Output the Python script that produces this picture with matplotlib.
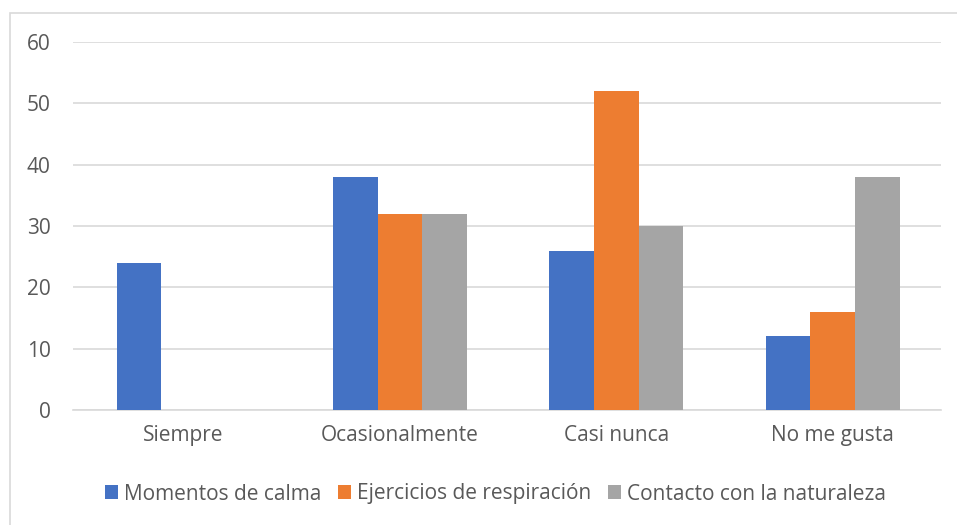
import matplotlib.pyplot as plt
import numpy as np
from matplotlib.patches import Rectangle

categories = ['Siempre', 'Ocasionalmente', 'Casi nunca', 'No me gusta']
series_names = ['Momentos de calma', 'Ejercicios de respiración', 'Contacto con la naturaleza']
calma = [24, 38, 26, 12]
respiracion = [0, 32, 52, 16]
naturaleza = [0, 32, 30, 38]
colors = ['#4472C4', '#ED7D31', '#A5A5A5']

plt.rcParams['font.family'] = ['Open Sans', 'DejaVu Sans']
txt = '#595959'

fig = plt.figure(figsize=(9.57, 5.25), dpi=100)
ax = fig.add_axes([73/957, 1 - 410/525, (941-73)/957, (410-42)/525])

x = np.arange(len(categories))
w = 0.206
for i, (vals, name) in enumerate(zip([calma, respiracion, naturaleza], series_names)):
    ax.bar(x + (i - 1) * w, vals, w, color=colors[i], label=name, zorder=3)

ax.set_xlim(-0.51, 3.5)
ax.set_ylim(0, 60)
ax.set_yticks(range(0, 61, 10))
ax.yaxis.grid(True, color='#D9D9D9', linewidth=1.2, zorder=0)
for s in ['top', 'right', 'left']:
    ax.spines[s].set_visible(False)
ax.spines['bottom'].set_color('#D9D9D9')
ax.spines['bottom'].set_linewidth(1.2)
ax.tick_params(axis='both', length=0, labelsize=15, colors=txt)
ax.tick_params(axis='y', pad=16)
ax.tick_params(axis='x', pad=11)
ax.set_xticks(x)
ax.set_xticklabels(categories)

leg = fig.legend(loc='center', bbox_to_anchor=(0.518, 1 - 494/525), ncol=3, frameon=False,
                 fontsize=15, handlelength=0.62, handleheight=0.62, handletextpad=0.3,
                 columnspacing=0.8)
for t in leg.get_texts():
    t.set_color(txt)

fig.patches.append(Rectangle((10/957, -0.1), 1.2, 1 - 13/525 + 0.1, transform=fig.transFigure,
                             fill=False, edgecolor='#D9D9D9', linewidth=1.2))

fig.savefig('out.png', dpi=100)
